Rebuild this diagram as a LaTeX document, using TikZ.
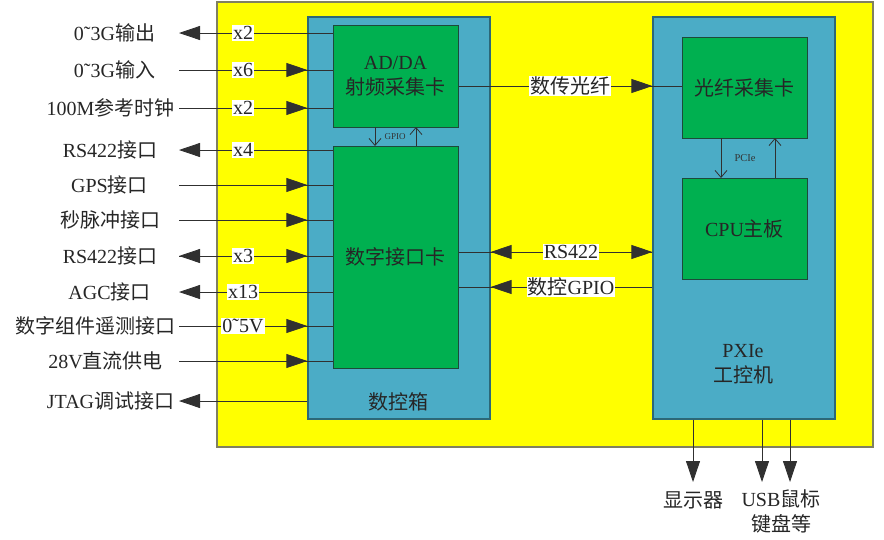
\documentclass[tikz,border=0pt]{standalone}
\usepackage{fontspec}
\setmainfont{Liberation Serif}
\newfontfamily\cjk{Noto Sans CJK SC}
\usetikzlibrary{arrows.meta}
\newcommand\zh[1]{{\cjk #1}}
\definecolor{yel}{HTML}{FFFF00}
\definecolor{yelborder}{HTML}{808060}
\definecolor{aqua}{HTML}{4BACC6}
\definecolor{aquaborder}{HTML}{2C6878}
\definecolor{grn}{HTML}{00B050}
\definecolor{grnborder}{HTML}{1D4A3A}
\definecolor{lin}{HTML}{303030}
\tikzset{
  big/.style={font=\fontsize{20}{25}\selectfont},
  yelbox/.style={draw=yelborder,fill=yel,line width=1.4pt},
  aquabox/.style={draw=aquaborder,fill=aqua,line width=1.2pt},
  grnbox/.style={draw=grnborder,fill=grn,line width=1pt,big,align=center,text=black!85},
  conn/.style={draw=lin,line width=0.8pt},
  tri/.tip={Triangle[length=21pt,width=14pt]},
  barb/.tip={Straight Barb[length=7pt,width=12pt]},
  tag/.style={fill=white,inner sep=1pt,big,text=black!85},
  lab/.style={big,inner sep=1pt,text=black!85},
}
\begin{document}
\begin{tikzpicture}[x=1pt,y=-1pt]
\useasboundingbox (0,0) rectangle (884,539);
% containers
\node[yelbox,minimum width=656pt,minimum height=445pt] (yb) at (545,224.5) {};
\node[aquabox,minimum width=182pt,minimum height=402pt] (box1) at (399,218) {};
\node[aquabox,minimum width=182pt,minimum height=402pt] (box2) at (744,218) {};
\node[grnbox,minimum width=125pt,minimum height=102pt] (adda) at (395.5,76) {AD/DA\\\zh{射频采集卡}};
\node[grnbox,minimum width=125pt,minimum height=222pt] (digi) at (395.5,257) {\zh{数字接口卡}};
\node[grnbox,minimum width=125pt,minimum height=101pt] (fcard) at (744.5,87.5) {\zh{光纤采集卡}};
\node[grnbox,minimum width=125pt,minimum height=101pt] (cpu) at (744.5,228.5) {CPU\zh{主板}};
\node[lab] (box1lab) at (398,402) {\zh{数控箱}};
\node[lab,align=center] (box2lab) at (743,364) {PXIe\\\zh{工控机}};
% left labels
\node[lab] (l1) at (114.5,33) {0˜3G\zh{输出}};
\node[lab] (l2) at (114.5,70) {0˜3G\zh{输入}};
\node[lab] (l3) at (110.5,108) {100M\zh{参考时钟}};
\node[lab] (l4) at (110,150) {RS422\zh{接口}};
\node[lab] (l5) at (109.5,185) {GPS\zh{接口}};
\node[lab] (l6) at (110,220) {\zh{秒脉冲接口}};
\node[lab] (l7) at (110,256) {RS422\zh{接口}};
\node[lab] (l8) at (109.5,292) {AGC\zh{接口}};
\node[lab,anchor=east] (l9) at (177,326) {\zh{数字组件遥测接口}};
\node[lab] (l10) at (105.5,361) {28V\zh{直流供电}};
\node[lab] (l11) at (110.5,401) {JTAG\zh{调试接口}};
% free ends of left connectors
\coordinate (e1) at (179,33);
\coordinate (e2) at (179,70);
\coordinate (e3) at (179,108);
\coordinate (e4) at (179,150);
\coordinate (e5) at (179,185);
\coordinate (e6) at (179,220);
\coordinate (e7) at (179,256);
\coordinate (e8) at (179,292);
\coordinate (e9) at (179,326);
\coordinate (e10) at (179,361);
\coordinate (e11) at (179,401);
% left connectors
\draw[conn,-tri] (e1 -| adda.west) -- (e1);
\draw[conn] (e2) -- (e2 -| adda.west);
\draw[conn,-tri] (e2) -- (e2 -| box1.west);
\draw[conn] (e3) -- (e3 -| adda.west);
\draw[conn,-tri] (e3) -- (e3 -| box1.west);
\draw[conn,-tri] (e4 -| digi.west) -- (e4);
\draw[conn] (e5) -- (e5 -| digi.west);
\draw[conn,-tri] (e5) -- (e5 -| box1.west);
\draw[conn] (e6) -- (e6 -| digi.west);
\draw[conn,-tri] (e6) -- (e6 -| box1.west);
\draw[conn] (e7) -- (e7 -| digi.west);
\draw[conn,tri-tri] (e7) -- (e7 -| box1.west);
\draw[conn,-tri] (e8 -| digi.west) -- (e8);
\draw[conn] (e9) -- (e9 -| digi.west);
\draw[conn,-tri] (e9) -- (e9 -| box1.west);
\draw[conn] (e10) -- (e10 -| digi.west);
\draw[conn,-tri] (e10) -- (e10 -| box1.west);
\draw[conn,-tri] (e11 -| box1.west) -- (e11);
% tags on left connectors
\node[tag] (t1) at (243,33) {x2};
\node[tag] (t2) at (243,70) {x6};
\node[tag] (t3) at (243,108) {x2};
\node[tag] (t4) at (243,150) {x4};
\node[tag] (t7) at (243,256) {x3};
\node[tag] (t8) at (243,292) {x13};
\node[tag] (t9) at (243,326) {0˜5V};
% GPIO between cards
\draw[conn,-barb] (375,127) -- (375,146);
\draw[conn,-barb] (416,146) -- (416,127);
\node[font=\fontsize{9}{10}\selectfont,inner sep=0pt,text=black!80] (gpio) at (395,137) {GPIO};
% PCIe between cards
\draw[conn,-barb] (721,138) -- (721,178);
\draw[conn,-barb] (775,178) -- (775,138);
\node[font=\fontsize{10.5}{12}\selectfont,inner sep=0pt,text=black!80] (pcie) at (745,158) {PCIe};
% middle connectors
\coordinate (m1) at (0,86);
\coordinate (m2) at (0,252);
\coordinate (m3) at (0,287);
\draw[conn] (m1 -| adda.east) -- (m1 -| fcard.west);
\draw[conn,-tri] (m1 -| adda.east) -- (m1 -| box2.west);
\draw[conn] (m2 -| digi.east) -- (m2 -| box2.west);
\draw[conn,tri-tri] (m2 -| box1.east) -- (m2 -| box2.west);
\draw[conn] (m3 -| digi.east) -- (m3 -| box2.west);
\draw[conn,tri-] (m3 -| box1.east) -- (m3 -| box2.west);
\node[tag] (tm1) at (570,86) {\zh{数传光纤}};
\node[tag] (tm2) at (571,252) {RS422};
\node[tag] (tm3) at (571,287) {\zh{数控}GPIO};
% bottom outputs
\coordinate (b1) at (693,482);
\coordinate (b2) at (762,482);
\coordinate (b3) at (790,482);
\draw[conn,-tri] (b1 |- box2.south) -- (b1);
\draw[conn,-tri] (b2 |- box2.south) -- (b2);
\draw[conn,-tri] (b3 |- box2.south) -- (b3);
\node[lab] (o1) at (693,500) {\zh{显示器}};
\node[lab,align=center] (o2) at (781,511) {USB\zh{鼠标}\\\zh{键盘等}};
\end{tikzpicture}
\end{document}
